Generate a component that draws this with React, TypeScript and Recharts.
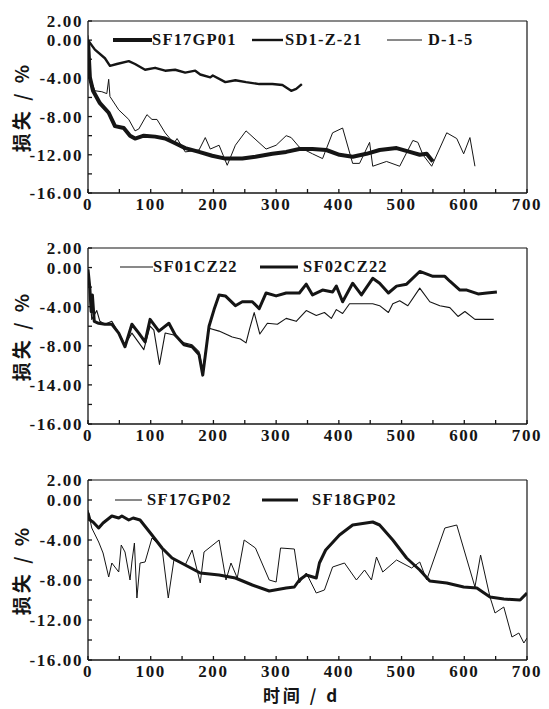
import { Legend, Line, LineChart, ReferenceLine, XAxis, YAxis } from "recharts";

const INK = "#151515";
const NUM_FONT = "'Liberation Serif', 'DejaVu Serif', serif";
const CJK_FONT = "'Noto Sans CJK SC', 'Noto Sans', sans-serif";

// axes
const DAY_TICKS = [0, 50, 100, 150, 200, 250, 300, 350, 400, 450, 500, 550, 600, 650, 700];
const DAY_LABELS = [0, 100, 200, 300, 400, 500, 600, 700];
const LOSS_TICKS = [2, 0, -2, -4, -6, -8, -10, -12, -14, -16];
const LOSS_MAJOR = [2, 0, -4, -8, -12, -16];
const LOSS_LABELS = ["2.00", "0.00", "-4.00", "-8.00", "-12.00", "-16.00"];
// middle panel is printed with "-14.00" at the fifth label
const LOSS_LABELS_MID = ["2.00", "0.00", "-4.00", "-8.00", "-14.00", "-16.00"];
const Y_TITLE = "损失 / %";
const X_TITLE = "时间 / d";

// panel 1
const SF17GP01_DAYS = [0, 3, 8, 19, 33, 43, 57, 67, 75, 89, 107, 123, 139, 155, 177, 198, 219, 246, 267, 294, 316, 337, 358, 380, 401, 422, 444, 465, 492, 513, 529, 540, 550];
const SF17GP01_LOSS = [0, -3.9, -5.3, -6.6, -7.6, -9.0, -9.2, -10.0, -10.3, -10.0, -10.1, -10.3, -10.8, -11.3, -11.7, -12.1, -12.4, -12.4, -12.2, -11.9, -11.7, -11.4, -11.4, -11.5, -12.0, -12.2, -11.9, -11.5, -11.3, -11.7, -12.0, -11.9, -12.7];
const SD1Z21_DAYS = [0, 11, 27, 35, 46, 65, 75, 91, 107, 123, 139, 155, 171, 179, 195, 199, 219, 235, 252, 273, 294, 310, 324, 332, 341];
const SD1Z21_LOSS = [0, -1.0, -1.9, -2.7, -2.5, -2.2, -2.5, -3.1, -2.9, -3.2, -3.1, -3.4, -3.2, -3.6, -3.9, -3.7, -4.4, -4.2, -4.4, -4.6, -4.6, -4.7, -5.3, -5.1, -4.6];
const D15_DAYS = [0, 3, 11, 22, 30, 33, 35, 49, 65, 75, 81, 94, 102, 110, 123, 137, 142, 155, 177, 187, 195, 209, 222, 235, 252, 284, 300, 316, 324, 337, 358, 374, 390, 406, 422, 433, 449, 454, 476, 497, 518, 526, 534, 548, 572, 588, 599, 609, 617];
const D15_LOSS = [0.5, -3.9, -5.3, -5.4, -5.6, -4.1, -5.9, -7.3, -8.3, -9.5, -9.3, -7.8, -8.3, -8.3, -9.7, -10.8, -10.3, -11.7, -11.5, -10.2, -11.4, -11.0, -13.1, -11.0, -9.5, -11.4, -11.0, -10.0, -10.2, -11.2, -11.9, -12.4, -9.7, -9.2, -12.9, -12.9, -10.7, -13.2, -12.7, -13.2, -10.5, -10.7, -12.0, -13.2, -9.7, -10.3, -11.9, -10.2, -13.2];

// panel 2
const SF01CZ22_DAYS = [0, 6, 14, 19, 27, 38, 49, 59, 70, 89, 99, 105, 114, 123, 137, 153, 166, 177, 183, 193, 209, 230, 243, 252, 258, 265, 274, 286, 302, 316, 332, 348, 364, 377, 388, 396, 406, 417, 438, 454, 465, 479, 486, 497, 510, 529, 545, 561, 577, 590, 601, 617, 647];
const SF01CZ22_LOSS = [-0.2, -5.3, -4.4, -5.5, -5.8, -5.5, -6.7, -7.9, -6.7, -8.4, -6.0, -6.4, -9.9, -6.7, -6.9, -7.7, -7.9, -8.6, -10.5, -6.2, -6.5, -7.1, -7.3, -7.7, -6.2, -4.6, -6.8, -5.7, -5.8, -5.2, -5.5, -4.4, -4.9, -4.6, -5.2, -4.3, -4.7, -3.7, -3.7, -3.7, -3.9, -4.6, -3.7, -3.4, -3.9, -2.1, -3.5, -3.9, -4.1, -5.0, -4.5, -5.3, -5.3];
const SF02CZ22_DAYS = [0, 3, 5, 7, 10, 17, 27, 38, 49, 59, 70, 81, 91, 99, 113, 129, 139, 153, 166, 177, 183, 193, 201, 209, 219, 235, 246, 262, 273, 284, 300, 316, 337, 348, 358, 374, 390, 396, 406, 422, 436, 454, 465, 479, 492, 508, 529, 550, 569, 577, 593, 604, 622, 636, 652];
const SF02CZ22_LOSS = [-0.2, -2.1, -4.5, -2.8, -5.5, -5.7, -5.8, -5.8, -6.7, -8.1, -5.8, -6.7, -7.6, -5.3, -6.5, -5.7, -6.9, -7.9, -8.1, -8.9, -11.0, -6.0, -4.3, -2.8, -2.9, -3.9, -3.5, -3.5, -4.2, -2.6, -2.9, -2.6, -2.6, -1.7, -2.8, -2.3, -2.5, -1.9, -3.5, -1.6, -2.8, -1.1, -1.6, -2.6, -1.9, -1.7, -0.4, -0.9, -0.9, -1.4, -2.3, -2.3, -2.7, -2.6, -2.5];

// panel 3
const SF17GP02_DAYS = [0, 6, 17, 24, 33, 38, 49, 53, 59, 67, 70, 74, 78, 83, 91, 102, 118, 128, 137, 155, 166, 179, 185, 209, 220, 228, 238, 249, 267, 289, 300, 307, 329, 337, 348, 364, 377, 390, 409, 428, 441, 452, 460, 470, 492, 516, 529, 540, 569, 588, 617, 626, 641, 649, 663, 676, 687, 695, 700];
const SF17GP02_LOSS = [-1.0, -2.8, -4.2, -5.3, -7.7, -6.3, -7.2, -4.5, -5.2, -8.0, -6.2, -4.3, -9.8, -6.3, -6.2, -3.8, -4.8, -9.8, -6.0, -6.5, -5.0, -8.3, -5.2, -4.0, -8.0, -6.3, -7.8, -4.0, -4.8, -8.0, -8.2, -4.8, -4.9, -8.3, -7.3, -9.3, -9.0, -6.7, -6.3, -8.0, -7.0, -8.0, -5.7, -7.2, -6.0, -6.8, -6.2, -8.0, -2.8, -2.5, -8.7, -5.5, -9.7, -11.3, -10.7, -13.7, -13.3, -14.3, -13.8];
const SF18GP02_DAYS = [0, 3, 8, 17, 24, 38, 49, 54, 65, 72, 83, 102, 118, 134, 155, 179, 209, 235, 262, 289, 316, 329, 337, 348, 364, 369, 379, 401, 422, 454, 465, 486, 508, 529, 545, 572, 599, 620, 641, 663, 689, 700];
const SF18GP02_LOSS = [-1.3, -2.0, -2.2, -2.8, -2.3, -1.6, -1.8, -1.6, -2.0, -1.8, -2.0, -3.5, -4.8, -5.8, -6.5, -7.3, -7.5, -7.8, -8.5, -9.1, -8.8, -8.7, -8.0, -7.5, -7.8, -6.3, -5.0, -3.5, -2.5, -2.2, -2.5, -4.0, -5.8, -7.0, -8.1, -8.3, -8.7, -8.8, -9.7, -9.9, -10.0, -9.3];

const toPoints = (days: number[], loss: number[]) =>
  days.map((d, i) => ({ d, v: loss[i] }));

type Series = {
  name: string;
  points: { d: number; v: number }[];
  width: number;
  legendLeft: number; // where the legend swatch starts
  swatch: number; // swatch length
  gap: number; // swatch -> text
};

type Panel = {
  top: number;
  height: number;
  plotTop: number;
  axisHeight: number;
  yLabels: string[];
  legendTop: number;
  series: Series[];
  xTitle?: boolean;
};

const PANELS: Panel[] = [
  {
    top: 0,
    height: 224,
    plotTop: 21,
    axisHeight: 28,
    yLabels: LOSS_LABELS,
    legendTop: 30,
    series: [
      { name: "SF17GP01", points: toPoints(SF17GP01_DAYS, SF17GP01_LOSS), width: 4, legendLeft: 113, swatch: 39, gap: 0 },
      { name: "SD1-Z-21", points: toPoints(SD1Z21_DAYS, SD1Z21_LOSS), width: 2.4, legendLeft: 252, swatch: 31, gap: 2 },
      { name: "D-1-5", points: toPoints(D15_DAYS, D15_LOSS), width: 1, legendLeft: 387, swatch: 35, gap: 6 },
    ],
  },
  {
    top: 230,
    height: 224,
    plotTop: 18,
    axisHeight: 28,
    yLabels: LOSS_LABELS_MID,
    legendTop: 27,
    series: [
      { name: "SF01CZ22", points: toPoints(SF01CZ22_DAYS, SF01CZ22_LOSS), width: 1.1, legendLeft: 120, swatch: 33, gap: 0 },
      { name: "SF02CZ22", points: toPoints(SF02CZ22_DAYS, SF02CZ22_LOSS), width: 3, legendLeft: 260, swatch: 38, gap: 5 },
    ],
  },
  {
    top: 460,
    height: 249,
    plotTop: 20,
    axisHeight: 47,
    yLabels: LOSS_LABELS,
    legendTop: 30,
    xTitle: true,
    series: [
      { name: "SF17GP02", points: toPoints(SF17GP02_DAYS, SF17GP02_LOSS), width: 1, legendLeft: 115, swatch: 27, gap: 5 },
      { name: "SF18GP02", points: toPoints(SF18GP02_DAYS, SF18GP02_LOSS), width: 3, legendLeft: 262, swatch: 36, gap: 14 },
    ],
  },
];

const PLOT_HEIGHT = [172, 176, 180];

const tickStyle = {
  fill: INK,
  fontSize: 17,
  fontWeight: 700,
  fontFamily: NUM_FONT,
  letterSpacing: 1.6,
};

const YTitle = (props: any) => {
  const vb = props.viewBox || {};
  const cy = vb.y + vb.height / 2;
  return (
    <text
      x={20}
      y={cy}
      transform={`rotate(-90, 20, ${cy})`}
      textAnchor="middle"
      dominantBaseline="central"
      fill={INK}
      fontSize={19}
      fontWeight={700}
      letterSpacing={3}
      fontFamily={CJK_FONT}
    >
      {Y_TITLE}
    </text>
  );
};

const XTitle = (props: any) => {
  const vb = props.viewBox || {};
  return (
    <text
      x={vb.x + vb.width / 2 - 6}
      y={vb.y + 34}
      textAnchor="middle"
      dominantBaseline="central"
      fill={INK}
      fontSize={17}
      fontWeight={700}
      letterSpacing={3}
      fontFamily={CJK_FONT}
    >
      {X_TITLE}
    </text>
  );
};

const makeLegend = (series: Series[]) => () => (
  <div style={{ position: "relative", height: 20, width: 549 }}>
    {series.map((s) => (
      <div
        key={s.name}
        style={{
          position: "absolute",
          left: s.legendLeft,
          top: 0,
          height: 20,
          display: "flex",
          alignItems: "center",
        }}
      >
        <svg width={s.swatch} height={8}>
          <line x1={0} x2={s.swatch} y1={4} y2={4} stroke={INK} strokeWidth={s.width} />
        </svg>
        <span
          style={{
            marginLeft: s.gap,
            fontFamily: NUM_FONT,
            fontWeight: 700,
            fontSize: 16.5,
            letterSpacing: 1.2,
            color: INK,
            whiteSpace: "nowrap",
          }}
        >
          {s.name}
        </span>
      </div>
    ))}
  </div>
);

const LossPanel = ({ panel, plotHeight }: { panel: Panel; plotHeight: number }) => {
  const bottom = panel.height - panel.plotTop - plotHeight - panel.axisHeight;
  return (
    <div style={{ position: "absolute", left: 0, top: panel.top }}>
      <LineChart
        width={549}
        height={panel.height}
        margin={{ top: panel.plotTop, right: 22, bottom, left: 0 }}
      >
        <XAxis
          dataKey="d"
          type="number"
          domain={[0, 700]}
          ticks={DAY_TICKS}
          interval={0}
          allowDataOverflow
          height={panel.axisHeight}
          tickSize={-4}
          tickMargin={9}
          stroke={INK}
          strokeWidth={1.3}
          tick={tickStyle}
          tickFormatter={(v: number) => (DAY_LABELS.includes(v) ? String(v) : "")}
          label={panel.xTitle ? <XTitle /> : undefined}
        />
        <YAxis
          type="number"
          domain={[-16, 2]}
          ticks={LOSS_TICKS}
          interval={0}
          allowDataOverflow
          width={88}
          tickSize={-4}
          tickMargin={9}
          stroke={INK}
          strokeWidth={1.3}
          tick={tickStyle}
          tickFormatter={(v: number) => {
            const i = LOSS_MAJOR.indexOf(v);
            return i >= 0 ? panel.yLabels[i] : "";
          }}
          label={<YTitle />}
        />
        {/* box frame: top and right edges */}
        <ReferenceLine y={2} stroke={INK} strokeWidth={1.2} ifOverflow="visible" />
        <ReferenceLine x={700} stroke={INK} strokeWidth={1.2} ifOverflow="visible" />
        <Legend
          layout="horizontal"
          verticalAlign="middle"
          align="center"
          content={makeLegend(panel.series)}
          wrapperStyle={{ top: panel.legendTop, left: 0, width: 549 }}
        />
        {panel.series.map((s) => (
          <Line
            key={s.name}
            data={s.points}
            dataKey="v"
            name={s.name}
            type="linear"
            stroke={INK}
            strokeWidth={s.width}
            strokeLinejoin="round"
            dot={false}
            activeDot={false}
            isAnimationActive={false}
          />
        ))}
      </LineChart>
    </div>
  );
};

const App = () => (
  <div
    style={{
      position: "absolute",
      left: 0,
      top: 0,
      width: 549,
      height: 709,
      background: "#fff",
    }}
  >
    {PANELS.map((p, i) => (
      <LossPanel key={i} panel={p} plotHeight={PLOT_HEIGHT[i]} />
    ))}
  </div>
);

export default App;
